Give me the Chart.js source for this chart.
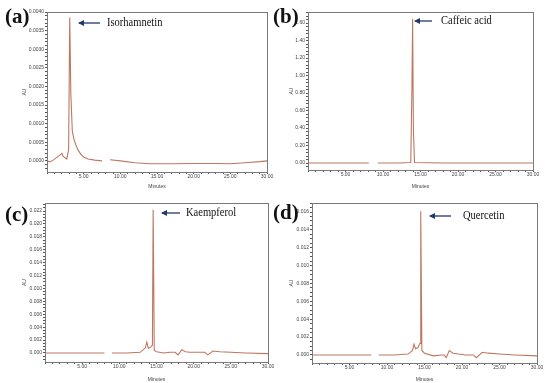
<!DOCTYPE html>
<html>
<head>
<meta charset="utf-8">
<script src="https://cdn.jsdelivr.net/npm/chart.js@4.4.1/dist/chart.umd.min.js"></script>
<style>
  body { margin: 0; background: #fff; width: 550px; height: 383px; position: relative; overflow: hidden; }
  canvas { position: absolute; }
  .lab { position: absolute; font-family: "Liberation Serif", serif; color: #111; white-space: nowrap; }
  .letter { font-weight: bold; font-size: 21px; }
  .name { font-size: 12.5px; transform: scaleX(0.84); transform-origin: left center; }
  svg { position: absolute; left: 0; top: 0; }
</style>
</head>
<body>
<canvas id="cA" width="275" height="190" style="left:0;top:0"></canvas>
<canvas id="cB" width="275" height="190" style="left:275px;top:0"></canvas>
<canvas id="cC" width="275" height="193" style="left:0;top:190px"></canvas>
<canvas id="cD" width="275" height="193" style="left:275px;top:190px"></canvas>

<div class="lab letter" style="left:5px;top:4px">(a)</div>
<div class="lab letter" style="left:273px;top:4px">(b)</div>
<div class="lab letter" style="left:5px;top:202px">(c)</div>
<div class="lab letter" style="left:273px;top:200px">(d)</div>

<div class="lab name" style="left:107px;top:15px">Isorhamnetin</div>
<div class="lab name" style="left:441px;top:13px">Caffeic acid</div>
<div class="lab name" style="left:186px;top:205px">Kaempferol</div>
<div class="lab name" style="left:463px;top:208px">Quercetin</div>

<svg width="550" height="383">
  <defs>
    <marker id="ah" markerWidth="6" markerHeight="6" refX="5" refY="3" orient="auto" markerUnits="userSpaceOnUse">
      <path d="M0,0 L6,3 L0,6 Z" fill="#1f3a68"/>
    </marker>
  </defs>
  <line x1="100" y1="23" x2="79" y2="23" stroke="#1f3a68" stroke-width="1.3" marker-end="url(#ah)"/>
  <line x1="432" y1="21" x2="415" y2="21" stroke="#1f3a68" stroke-width="1.3" marker-end="url(#ah)"/>
  <line x1="180" y1="213" x2="162" y2="213" stroke="#1f3a68" stroke-width="1.3" marker-end="url(#ah)"/>
  <line x1="451" y1="216" x2="430" y2="216" stroke="#1f3a68" stroke-width="1.3" marker-end="url(#ah)"/>
</svg>

<script>
// chromatogram traces (minutes, AU); null = break in the recorded trace
const timeA = [0, 0.4, 1.0, 1.5, 1.8, 2.05, 2.2, 2.7, 2.95, 3.1, 3.25, 3.45, 3.7, 3.9, 4.2, 4.6, 5.0, 5.6, 6.5, 7.5, 8.0, 8.6, 10, 12, 14, 17, 20, 23, 25, 27, 29, 30];
const valA  = [0, -0.00003, 0.00004, 0.00012, 0.00016, 0.0002, 0.00012, 0.00005, 0.0003, 0.00385, 0.0018, 0.0008, 0.00056, 0.00045, 0.0003, 0.00018, 0.0001, 0.00005, 0.00002, 0, null, 0.00003, 0.0000, -0.00005, -0.00008, -0.00008, -0.00007, -0.00007, -0.00008, -0.00005, -0.00002, 0.0];

const timeB = [0, 4, 8.1, 8.7, 9.3, 12, 13.7, 13.85, 13.95, 14.05, 14.2, 18, 24, 30];
const valB  = [0, 0, 0, null, 0, 0, 0.005, 0.8, 1.65, 0.4, 0.005, 0, 0, 0];

const timeC = [0, 4, 8.0, 8.5, 9.0, 11, 12.8, 13.5, 13.7, 13.9, 14.2, 14.45, 14.55, 14.7, 15.0, 16.0, 16.8, 17.5, 17.9, 18.4, 18.9, 19.5, 20.5, 21.5, 21.9, 22.6, 23.5, 25, 27, 30];
const valC  = [0, 0, 0, null, 0, 0, 0.0001, 0.0008, 0.0017, 0.0007, 0.0009, 0.0012, 0.0222, 0.0004, 0.0002, 0.0, 0.0001, 0.0001, -0.0003, 0.0005, 0.0002, 0.0001, 0.0001, 0.0001, -0.0003, 0.0003, 0.0002, 0.0001, 0.0, -0.0001];

const timeD = [0, 4, 7.9, 8.4, 8.9, 11, 12.8, 13.4, 13.6, 13.8, 14.1, 14.4, 14.5, 14.65, 15.0, 16.2, 17.2, 17.6, 17.9, 18.3, 18.8, 19.5, 20.5, 21.5, 21.9, 22.7, 23.5, 25, 27, 30];
const valD  = [0, 0, 0, null, 0, 0, 0.0001, 0.0005, 0.0012, 0.0007, 0.0008, 0.0013, 0.0161, 0.0005, 0.0002, -0.0001, 0.0, 0.0, -0.0003, 0.0005, 0.0002, 0.0001, 0.0, 0.0, -0.0003, 0.0003, 0.0002, 0.0001, 0.0, -0.0001];

// axis ticks
const minuteTicks = Array.from({ length: 31 }, (_, i) => i);
const minuteLabels = [5, 10, 15, 20, 25, 30];

const LINE = '#be7760';
const FRAME = '#7a7a7a';

// draw the full box around the plot area
const framePlugin = {
    id: 'frame',
    afterDraw(chart) {
        const a = chart.chartArea;
        const c = chart.ctx;
        c.save();
        c.strokeStyle = FRAME;
        c.lineWidth = 1;
        c.strokeRect(Math.round(a.left) + 0.5, Math.round(a.top) + 0.5, Math.round(a.right - a.left), Math.round(a.bottom - a.top));
        c.restore();
    }
};

function makePanel(id, time, vals, cfg) {
    const pts = time.map((t, i) => ({ x: t, y: vals[i] }));
    const yTicks = [];
    for (let v = cfg.yMinorStart; v <= cfg.yMax + 1e-12; v += cfg.yMinor) yTicks.push(+v.toFixed(8));
    const isMajor = v => Math.abs(v / cfg.yStep - Math.round(v / cfg.yStep)) < 1e-6 && v >= -1e-12 && v <= cfg.yTop + 1e-12;

    new Chart(document.getElementById(id), {
        type: 'line',
        data: { datasets: [{ data: pts, borderColor: LINE, borderWidth: 1.1, pointRadius: 0, tension: 0, spanGaps: false }] },
        options: {
            responsive: false,
            animation: false,
            events: [],
            layout: { padding: cfg.pad },
            plugins: { legend: { display: false }, tooltip: { enabled: false } },
            scales: {
                x: {
                    type: 'linear', min: 0, max: 30,
                    afterBuildTicks: s => { s.ticks = minuteTicks.map(v => ({ value: v })); },
                    afterFit: s => { s.height = cfg.xH; },
                    ticks: {
                        autoSkip: false, maxRotation: 0, padding: 0,
                        font: { size: 5, family: 'Arial' }, color: '#444',
                        callback: v => minuteLabels.includes(v) ? v.toFixed(2) : ''
                    },
                    grid: { drawOnChartArea: false, tickLength: 2, tickColor: '#555' },
                    border: { display: false },
                    title: { display: true, text: 'Minutes', font: { size: 5, family: 'Arial' }, color: '#444', padding: 0 }
                },
                y: {
                    min: cfg.yMin, max: cfg.yMax,
                    afterBuildTicks: s => { s.ticks = yTicks.map(v => ({ value: v })); },
                    afterFit: s => { s.width = cfg.yW; },
                    ticks: {
                        autoSkip: false, padding: 1,
                        font: { size: 5, family: 'Arial' }, color: '#444',
                        callback: v => isMajor(v) ? v.toFixed(cfg.dec) : ''
                    },
                    grid: { drawOnChartArea: false, tickLength: 2, tickColor: '#555' },
                    border: { display: false },
                    title: { display: true, text: 'AU', font: { size: 5, family: 'Arial' }, color: '#444', padding: 0 }
                }
            }
        },
        plugins: [framePlugin]
    });
}

makePanel('cA', timeA, valA, {
    pad: { left: 22, top: 12, right: 8, bottom: 0 }, yW: 25, xH: 18,
    yMin: -0.0003, yMax: 0.0040, yMinorStart: -0.0002, yMinor: 0.0001, yStep: 0.0005, yTop: 0.0040, dec: 4
});
makePanel('cB', timeB, valB, {
    pad: { left: 14, top: 12, right: 17, bottom: 0 }, yW: 19, xH: 20,
    yMin: -0.08, yMax: 1.726, yMinorStart: -0.04, yMinor: 0.04, yStep: 0.2, yTop: 1.6, dec: 2
});
makePanel('cC', timeC, valC, {
    pad: { left: 22, top: 13, right: 7, bottom: 0 }, yW: 23, xH: 21,
    yMin: -0.0014, yMax: 0.02324, yMinorStart: -0.001, yMinor: 0.0005, yStep: 0.002, yTop: 0.022, dec: 3
});
makePanel('cD', timeD, valD, {
    pad: { left: 14, top: 13, right: 13, bottom: 0 }, yW: 23, xH: 20,
    yMin: -0.0009, yMax: 0.01701, yMinorStart: -0.0005, yMinor: 0.0005, yStep: 0.002, yTop: 0.016, dec: 3
});
</script>
</body>
</html>
